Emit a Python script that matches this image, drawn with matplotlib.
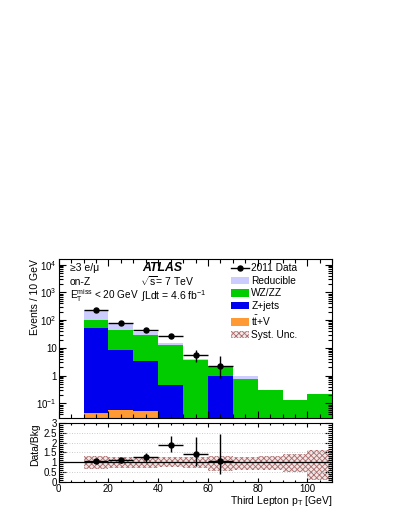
import numpy as np
import matplotlib
matplotlib.use('Agg')
import matplotlib.pyplot as plt
from matplotlib.patches import Patch
from matplotlib.lines import Line2D
from matplotlib.ticker import FixedLocator, MultipleLocator, LogLocator, NullFormatter, FuncFormatter

plt.rcParams['font.family'] = ['Liberation Sans', 'DejaVu Sans']
plt.rcParams['mathtext.fontset'] = 'custom'
plt.rcParams['mathtext.rm'] = 'Liberation Sans'
plt.rcParams['mathtext.it'] = 'Liberation Sans:italic'
plt.rcParams['mathtext.bf'] = 'Liberation Sans:bold'
plt.rcParams['hatch.linewidth'] = 0.6

# ---------------- data ----------------
bin_edges = [0, 10, 20, 30, 40, 50, 60, 70, 80, 90, 100, 110]
bin_centers = [5, 15, 25, 35, 45, 55, 65, 75, 85, 95, 105]
ttv = [0, 0.044, 0.057, 0.053, 0, 0, 0, 0, 0, 0, 0]
zjets = [0, 50, 8.3, 3.2, 0.46, 0, 1.0, 0, 0, 0, 0]
wzzz = [0, 50, 36.6, 26.2, 12.3, 3.7, 1.2, 0.76, 0.3, 0.13, 0.22]
reducible = [0, 135, 28, 6.5, 1.7, 0.2, 0, 0.22, 0, 0, 0]

data_x = [15, 25, 35, 45, 55, 65]
data_y = [240, 76, 45, 27, 5.6, 2.2]
data_err_lo = [15, 8.5, 7, 5, 2.4, 1.4]
data_err_hi = [16, 9.5, 8, 6, 3.0, 2.7]

ratio_y = [1.05, 1.1, 1.25, 1.88, 1.4, 1.05]
ratio_err_lo = [0.08, 0.12, 0.22, 0.38, 0.58, 0.68]
ratio_err_hi = [0.08, 0.12, 0.24, 0.45, 0.92, 1.38]

syst_left = [10, 20, 30, 40, 50, 60, 70, 80, 90, 100]
syst_up = [1.3, 1.28, 1.27, 1.25, 1.28, 1.3, 1.27, 1.32, 1.4, 1.65]
syst_down = [0.66, 0.7, 0.72, 0.74, 0.72, 0.56, 0.58, 0.62, 0.5, 0.1]

labels = ['2011 Data', 'Reducible', 'WZ/ZZ', 'Z+jets', r'$\mathrm{t\bar{t}}$+V', 'Syst. Unc.']
c_red = '#ccccff'
c_wz = '#00cc00'
c_zj = '#0000ee'
c_ttv = '#ff9933'
c_syst = '#a86a6a'

fig = plt.figure(figsize=(3.99, 5.16), dpi=100)
ax = fig.add_axes([0.147, 0.1905, 0.686, 0.3076])
ax2 = fig.add_axes([0.147, 0.0665, 0.686, 0.1132])

# stacked histogram
ax.hist([bin_centers] * 4, bins=bin_edges,
        weights=[ttv, zjets, wzzz, reducible],
        stacked=True, histtype='stepfilled', log=True,
        color=[c_ttv, c_zj, c_wz, c_red], linewidth=0)

ax.errorbar(data_x, data_y, xerr=5, yerr=[data_err_lo, data_err_hi],
            fmt='o', color='k', ms=3.6, elinewidth=1.0, capsize=0)

ax.set_xlim(0, 110)
ax.set_ylim(0.0305, 1.6e4)
ax.yaxis.set_major_locator(FixedLocator([0.1, 1, 10, 100, 1000, 10000]))
ax.yaxis.set_minor_locator(LogLocator(base=10, subs=np.arange(2, 10)))
ax.yaxis.set_minor_formatter(NullFormatter())
ylabs = {0.1: r'$10^{-1}$', 1: '1', 10: '10', 100: r'$10^{2}$', 1000: r'$10^{3}$', 10000: r'$10^{4}$'}
ax.yaxis.set_major_formatter(FuncFormatter(lambda v, p: ylabs.get(round(v, 3), '')))
ax.xaxis.set_major_locator(MultipleLocator(20))
ax.xaxis.set_minor_locator(MultipleLocator(5))
ax.tick_params(which='both', direction='in', top=True, right=True, labelbottom=False, labelsize=7)
ax.tick_params(axis='y', pad=1.5)
ax.tick_params(which='major', length=5, width=0.8)
ax.tick_params(which='minor', length=3, width=0.8)
ax.set_ylabel('Events / 10 GeV', fontsize=7.5, loc='top', labelpad=-3)

# annotations
ax.text(0.041, 0.943, '≥3 e/μ', transform=ax.transAxes, fontsize=7.5, va='center')
ax.text(0.041, 0.858, 'on-Z', transform=ax.transAxes, fontsize=7.5, va='center')
ax.text(0.041, 0.772, r'$\mathrm{E_{T}^{miss}}$ < 20 GeV', transform=ax.transAxes, fontsize=7.2, va='center')
ax.text(0.305, 0.945, 'ATLAS', transform=ax.transAxes, fontsize=8.8, va='center',
        fontweight='bold', fontstyle='italic')
ax.text(0.298, 0.862, r'$\sqrt{\mathrm{s}}$= 7 TeV', transform=ax.transAxes, fontsize=7.5, va='center')
ax.text(0.300, 0.768, r'$\int$Ldt = 4.6 fb$^{-1}$', transform=ax.transAxes, fontsize=7.5, va='center')

handles = [Line2D([], [], color='k', marker='o', ms=3.6, lw=1.0),
           Patch(facecolor=c_red, edgecolor='none'),
           Patch(facecolor=c_wz, edgecolor='none'),
           Patch(facecolor=c_zj, edgecolor='none'),
           Patch(facecolor=c_ttv, edgecolor='none'),
           Patch(facecolor='#f3e6e6', edgecolor=c_syst, hatch='xxxxxx', linewidth=0)]
ax.legend(handles, labels, loc='upper left', bbox_to_anchor=(0.628, 0.972), frameon=False,
          fontsize=7.3, handlelength=1.8, handleheight=0.8, handletextpad=0.25,
          labelspacing=0.25, borderpad=0, borderaxespad=0)

# ratio panel
for g in [0.5, 1.5, 2.0, 2.5]:
    ax2.axhline(g, color='#bbbbbb', lw=0.6, ls=(0, (1, 2)))
ax2.bar(syst_left, np.array(syst_up) - np.array(syst_down), bottom=syst_down, width=10,
        align='edge', facecolor='#f3e6e6', edgecolor=c_syst, hatch='xxxxxx', linewidth=0)
ax2.axhline(1, color='k', lw=0.9)
ax2.errorbar(data_x, ratio_y, xerr=5, yerr=[ratio_err_lo, ratio_err_hi],
             fmt='o', color='k', ms=3.6, elinewidth=1.0, capsize=0)
ax2.set_xlim(0, 110)
ax2.set_ylim(0, 3)
ax2.yaxis.set_major_locator(MultipleLocator(0.5))
ax2.yaxis.set_minor_locator(MultipleLocator(0.1))
ax2.yaxis.set_major_formatter(FuncFormatter(lambda v, p: ('%g' % v)))
ax2.xaxis.set_major_locator(MultipleLocator(20))
ax2.xaxis.set_minor_locator(MultipleLocator(5))
ax2.tick_params(which='both', direction='in', top=True, right=True, labelsize=7)
ax2.tick_params(axis='y', pad=1.5)
ax2.tick_params(axis='x', pad=1.5)
ax2.tick_params(axis='y', which='major', length=5, width=0.8)
ax2.tick_params(axis='y', which='minor', length=3, width=0.8)
ax2.tick_params(axis='x', which='major', length=3, width=0.8)
ax2.tick_params(axis='x', which='minor', length=1.5, width=0.8)
ax2.set_ylabel('Data/Bkg', fontsize=7.5, loc='top', labelpad=2)
ax2.set_xlabel(r'Third Lepton p$_{\mathrm{T}}$ [GeV]', fontsize=7.5, loc='right', labelpad=0)

fig.savefig('out.png', dpi=100)
